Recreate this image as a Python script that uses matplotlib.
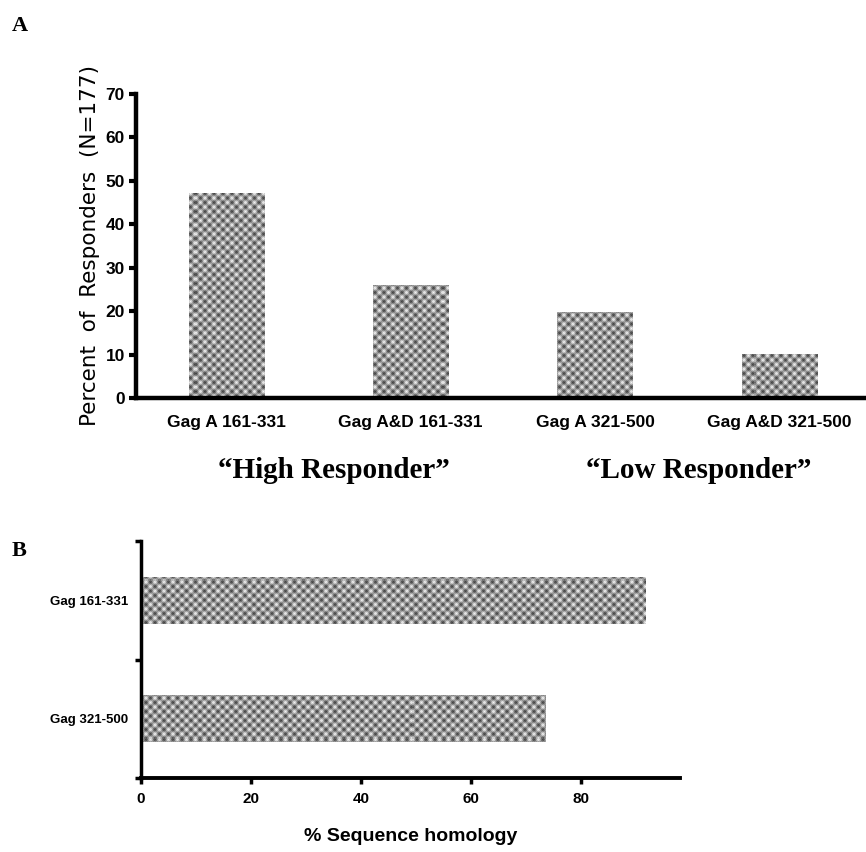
import numpy as np
import matplotlib
matplotlib.use("Agg")
from matplotlib import pyplot as plt

# panel A data
groups = ['Gag A 161-331', 'Gag A&D 161-331', 'Gag A 321-500', 'Gag A&D 321-500']
pct_responders = [47.2, 26.0, 19.8, 10.1]

# panel B data
regions = ['Gag 321-500', 'Gag 161-331']
homology = [73.5, 91.8]

sans = ['Liberation Sans Narrow', 'Liberation Sans', 'DejaVu Sans']
serif = ['Liberation Serif', 'DejaVu Serif']


def texture(ax):
    # dotted grey screen like the printed original
    bb = ax.get_window_extent()
    w, h = int(bb.width), int(bb.height)
    yy, xx = np.mgrid[0:h, 0:w]
    p = 9.0
    t = 0.6 + 0.32 * np.cos(2 * np.pi * xx / p) * np.cos(2 * np.pi * yy / p)
    t += 0.03 * (((xx + yy) % 2) * 2 - 1)
    return t


def fill_bars(ax, bars):
    fig = ax.figure
    fig.canvas.draw()
    tex = texture(ax)
    xl, yl = ax.get_xlim(), ax.get_ylim()
    for b in bars:
        im = ax.imshow(tex, extent=(xl[0], xl[1], yl[0], yl[1]), aspect='auto',
                       cmap='gray', vmin=0, vmax=1, interpolation='nearest',
                       origin='upper', zorder=2)
        im.set_clip_path(b)
    ax.set_xlim(xl)
    ax.set_ylim(yl)


fig = plt.figure(figsize=(8.66, 8.52), dpi=100)

# ---- A ----
ax1 = fig.add_axes([136 / 866, 1 - 398 / 852, 1 - 136 / 866, (398 - 94) / 852])
x = np.arange(len(groups))
bars1 = ax1.bar(x, pct_responders, width=0.41, color='#8c8c8c', zorder=1)
ax1.set_xlim(-0.49, 3.47)
ax1.set_ylim(0, 70)
ax1.set_yticks(range(0, 71, 10))
ax1.set_xticks(x)
ax1.set_xticklabels(groups, family=sans, fontweight='bold', fontsize=12.5)
for lab in ax1.get_yticklabels():
    lab.set_family(sans)
    lab.set_fontweight('bold')
    lab.set_fontsize(12.5)
ax1.tick_params(axis='y', length=5, width=3, pad=3)
ax1.tick_params(axis='x', length=0, pad=12)
for s in ['top', 'right']:
    ax1.spines[s].set_visible(False)
ax1.spines['left'].set_linewidth(3.2)
ax1.spines['bottom'].set_linewidth(3.2)
ax1.set_ylabel('Percent  of  Responders  (N=177)', family='DejaVu Sans',
               fontsize=15.5, labelpad=4)
fill_bars(ax1, bars1)

fig.text(334 / 866, 1 - 470 / 852, '\u201cHigh Responder\u201d', family=serif,
         fontweight='bold', fontsize=21, ha='center', va='center')
fig.text(699 / 866, 1 - 470 / 852, '\u201cLow Responder\u201d', family=serif,
         fontweight='bold', fontsize=21, ha='center', va='center')
fig.text(12 / 866, 1 - 26 / 852, 'A', family=serif, fontweight='bold',
         fontsize=16, ha='left', va='center')
fig.text(12 / 866, 1 - 551 / 852, 'B', family=serif, fontweight='bold',
         fontsize=16, ha='left', va='center')

# ---- B ----
ax2 = fig.add_axes([141 / 866, 1 - 778 / 852, (680 - 141) / 866, (778 - 541) / 852])
y = np.array([0.5, 1.5])
bars2 = ax2.barh(y, homology, height=0.4, color='#8c8c8c', zorder=1)
ax2.set_xlim(0, 98)
ax2.set_ylim(0, 2)
ax2.set_xticks(range(0, 81, 20))
ax2.set_yticks([0, 1, 2])
ax2.set_yticklabels([])
ax2.set_yticks(y, minor=True)
ax2.set_yticklabels(regions, minor=True, family=sans, fontweight='bold', fontsize=9.5)
ax2.tick_params(axis='y', which='minor', length=0, pad=9)
ax2.tick_params(axis='y', which='major', length=4, width=2.5)
for lab in ax2.get_xticklabels():
    lab.set_family(sans)
    lab.set_fontweight('bold')
    lab.set_fontsize(11)
ax2.tick_params(axis='x', length=4, width=2.5, pad=6)
for s in ['top', 'right']:
    ax2.spines[s].set_visible(False)
ax2.spines['left'].set_linewidth(2.5)
ax2.spines['bottom'].set_linewidth(2.8)
ax2.set_xlabel('% Sequence homology', family=sans, fontweight='bold',
               fontsize=14, labelpad=16)
fill_bars(ax2, bars2)

fig.savefig('out.png', dpi=100)
